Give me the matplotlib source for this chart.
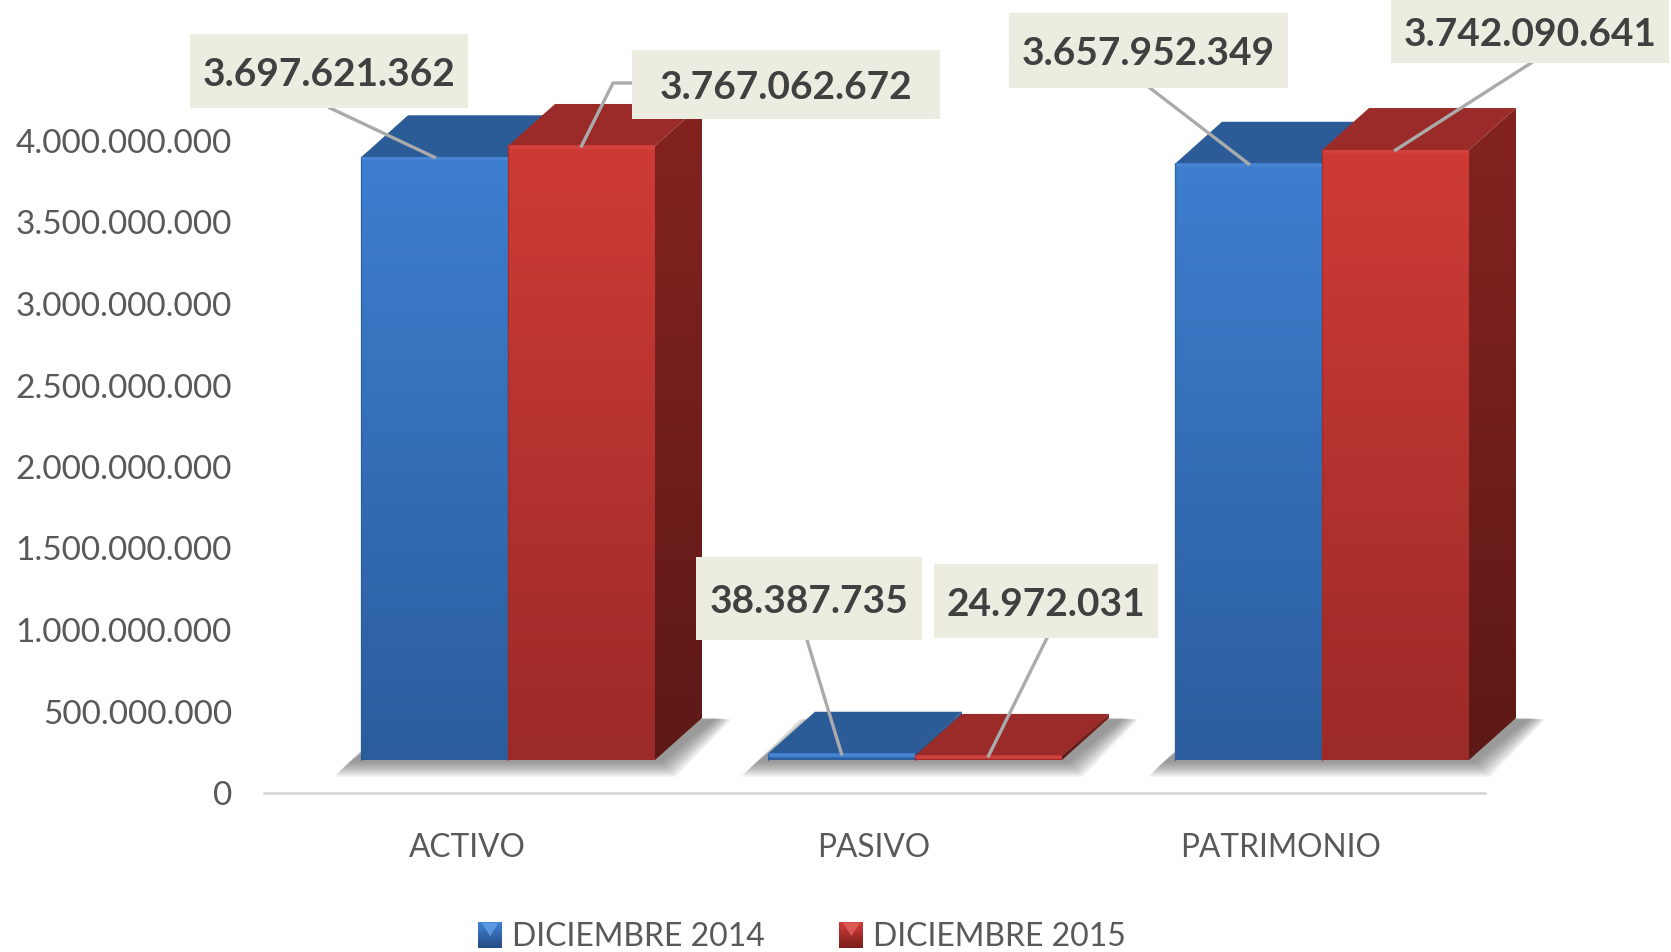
import numpy as np
import matplotlib
matplotlib.use("Agg")
import matplotlib.pyplot as plt
from matplotlib.colors import LinearSegmentedColormap
from matplotlib.legend_handler import HandlerBase
from matplotlib.patches import Patch, Polygon, Rectangle
from matplotlib.transforms import Affine2D

categories = ["ACTIVO", "PASIVO", "PATRIMONIO"]
series_names = ["DICIEMBRE 2014", "DICIEMBRE 2015"]
values_2014 = [3697621362, 38387735, 3657952349]
values_2015 = [3767062672, 24972031, 3742090641]
y_ticks = [0, 5e8, 1e9, 1.5e9, 2e9, 2.5e9, 3e9, 3.5e9, 4e9]
y_tick_labels = ["0", "500.000.000", "1.000.000.000", "1.500.000.000", "2.000.000.000",
                 "2.500.000.000", "3.000.000.000", "3.500.000.000", "4.000.000.000"]

W, H = 1671, 952
PX_PER_CAT, PX_PER_UNIT = 407.0, 163e-9
X0_PX, Y0_PX = 467.0, 793.0
plt.rcParams["font.family"] = ["Lato", "DejaVu Sans"]

fig = plt.figure(figsize=(W / 100, H / 100), dpi=100, facecolor="white")
ax = fig.add_axes([0, (H - Y0_PX) / H, 1, Y0_PX / H])
ax.set_autoscale_on(False)
ax.set_xlim(-X0_PX / PX_PER_CAT, (W - X0_PX) / PX_PER_CAT)
ax.set_ylim(0, Y0_PX / PX_PER_UNIT)
ref = Affine2D().scale(1, -1).translate(0, H)

BAR_W = 147 / PX_PER_CAT
DX, DY = 47 / PX_PER_CAT, 42 / PX_PER_UNIT
FLOOR = 33 / PX_PER_UNIT
SHIFT = 41 / PX_PER_CAT

styles = [
    dict(front=("#3D7ECF", "#2B5D9D"), top="#2B5C98", side=("#2B5C98", "#234C80"), rim="#4A88D6"),
    dict(front=("#CE3B37", "#9B2A28"), top="#9A2B28", side=("#842320", "#5D1916"), rim="#D4443F"),
]


def grad(c1, c2):
    return LinearSegmentedColormap.from_list("g", [c2, c1])


def gradient_fill(x0, x1, y0, y1, colors, zorder, clip=None):
    im = ax.imshow(np.linspace(1, 0, 128).reshape(-1, 1), cmap=grad(*colors), vmin=0, vmax=1,
                   extent=[x0, x1, y0, y1], aspect="auto", zorder=zorder, interpolation="bilinear")
    if clip is not None:
        p = Polygon(clip, transform=ax.transData, fc="none", ec="none")
        ax.add_patch(p)
        im.set_clip_path(p)
    return im


def shadow(x0, x1, zorder):
    fx, fy = 12 / PX_PER_CAT, 2 / PX_PER_UNIT
    layers = 16
    for k in range(layers):
        g = (layers - 1 - k) * 1.0
        gx, gy = g / PX_PER_CAT, g / PX_PER_UNIT
        poly = [(x0 - fx - gx, FLOOR - fy - gy),
                (x1 + fx * 0.5 + gx, FLOOR - fy - gy),
                (x1 + DX + fx * 1.2 + gx, FLOOR + DY - gy * 0.1),
                (x0 + DX - fx * 0.1 - gx, FLOOR + DY - gy * 0.1)]
        ax.add_patch(Polygon(poly, fc="#555555", ec="none", alpha=0.05, zorder=zorder))


def bar3d(x0, value, st, z):
    x1 = x0 + BAR_W
    y0, y1 = FLOOR, FLOOR + value
    top = [(x0, y1), (x1, y1), (x1 + DX, y1 + DY), (x0 + DX, y1 + DY)]
    ax.add_patch(Polygon(top, fc=st["top"], ec="none", zorder=z))
    side = [(x1, y0), (x1 + DX, y0 + DY), (x1 + DX, y1 + DY), (x1, y1)]
    gradient_fill(x1, x1 + DX, y0, y1 + DY, st["side"], z + 0.1, clip=side)
    gradient_fill(x0, x1, y0, y1, st["front"], z + 0.2)
    rim = 3 / PX_PER_UNIT
    ax.add_patch(Rectangle((x0, y1 - rim), BAR_W, rim, fc=st["rim"], ec="none", alpha=0.8, zorder=z + 0.25))
    ax.plot([x0, x0], [y0, y1], color=st["front"][1], lw=1.0, alpha=0.7, zorder=z + 0.3)


for i in range(len(categories)):
    left = i + SHIFT - BAR_W
    shadow(left, left + 2 * BAR_W, 1)
    bar3d(left, values_2014[i], styles[0], 2)
    bar3d(left + BAR_W, values_2015[i], styles[1], 3)

# Axis
for name, spine in ax.spines.items():
    spine.set_visible(name == "bottom")
ax.spines["bottom"].set_bounds(-0.5, 2.5)
ax.spines["bottom"].set_color("#D9D9D9")
ax.spines["bottom"].set_linewidth(2)
ax.patch.set_alpha(0)
ax.set_xticks(range(3), categories)
ax.set_yticks(y_ticks, y_tick_labels)
ax.tick_params(axis="both", length=0, labelcolor="#595959", labelsize=24)
ax.tick_params(axis="y", pad=-167)
ax.tick_params(axis="x", pad=29, labelsize=22.8)

# Callouts: box in reference pixels (x0, y0, x1, y1), optional elbow point
callouts = [
    (values_2014[0], 0, 0, "3.697.621.362", (190, 34, 468, 108), [(330, 108)]),
    (values_2015[0], 0, 1, "3.767.062.672", (632, 50, 940, 119), [(632, 83), (613, 83)]),
    (values_2014[1], 1, 0, "38.387.735", (696, 557, 922, 640), [(807, 640)]),
    (values_2015[1], 1, 1, "24.972.031", (934, 564, 1158, 638), [(1047, 638)]),
    (values_2014[2], 2, 0, "3.657.952.349", (1009, 13, 1288, 88), [(1150, 88)]),
    (values_2015[2], 2, 1, "3.742.090.641", (1391, 0, 1669, 63), [(1531, 63)]),
]
for val, cat, ser, txt, box, pts in callouts:
    tip_data = (cat + SHIFT + (ser - 0.5) * BAR_W, FLOOR + val)
    tip = ax.transData.transform(tip_data)
    tip_ref = (tip[0], H - tip[1])
    xs = [p[0] for p in pts] + [tip_ref[0]]
    ys = [p[1] for p in pts] + [tip_ref[1]]
    fig.add_artist(plt.Line2D(xs, ys, color="#ABABAB", lw=2.4, transform=ref, zorder=5))
    fig.add_artist(Rectangle((box[0], box[1]), box[2] - box[0], box[3] - box[1], fc="#EDECE1", ec="none",
                             transform=ref, zorder=6))
    fig.text((box[0] + box[2]) / 2 / W, 1 - ((box[1] + box[3]) / 2 + 3) / H, txt, ha="center", va="center",
             fontsize=28, fontweight="bold", color="#404040", zorder=7)


class GradientSquare(HandlerBase):
    def create_artists(self, legend, orig, xd, yd, w, h, fs, trans):
        c1, c2 = orig.colors
        cmap = grad(c1, c2)
        n = 12
        out = []
        for k in range(n):
            out.append(Rectangle((xd * -1, -yd + h * k / n), w, h / n + 0.3, fc=cmap(k / (n - 1)),
                                 ec="none", transform=trans))
        out.append(Polygon([(-xd + w * 0.15, -yd + h * 0.98), (-xd + w * 0.85, -yd + h * 0.98),
                            (-xd + w * 0.5, -yd + h * 0.45)], fc=orig.light, ec="none", alpha=0.75,
                           transform=trans))
        return out


h1 = Patch(label=series_names[0])
h1.colors, h1.light = ("#3F80D2", "#264F86"), "#6AA5EA"
h2 = Patch(label=series_names[1])
h2.colors, h2.light = ("#CC3A36", "#7E1F1C"), "#E56560"
leg = fig.legend(handles=[h1, h2], handler_map={Patch: GradientSquare()}, ncol=2, frameon=False,
                 loc="center", bbox_to_anchor=(802 / W, 1 - 937 / H), fontsize=23, labelcolor="#595959",
                 handlelength=0.75, handleheight=0.85, handletextpad=0.3, columnspacing=2.35,
                 borderpad=0, borderaxespad=0)

fig.savefig("out.png", dpi=100, facecolor="white")
